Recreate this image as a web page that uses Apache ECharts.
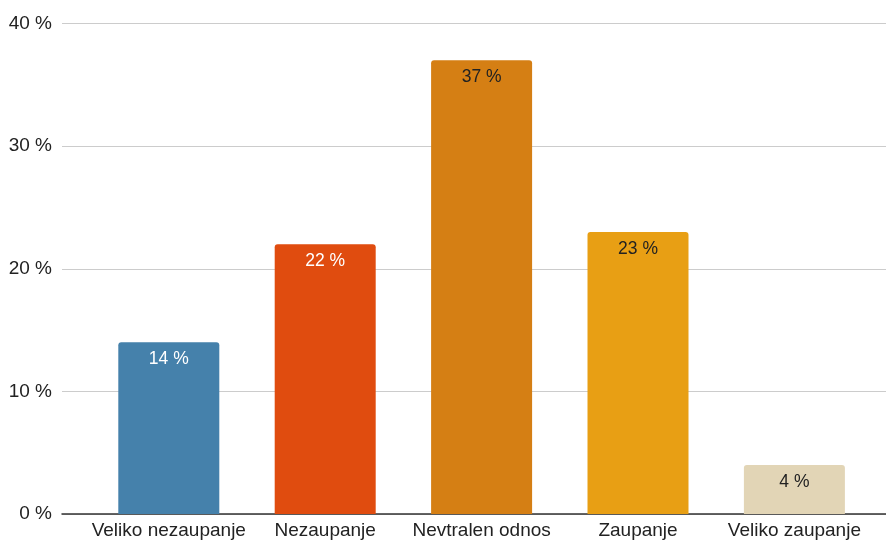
<!DOCTYPE html>
<html>
<head>
<meta charset="utf-8">
<script src="https://cdn.jsdelivr.net/npm/echarts@6/dist/echarts.min.js"></script>
<style>
  html, body { margin: 0; padding: 0; background: #fff; }
  #chart { width: 886px; height: 542px; }
</style>
</head>
<body>
<div id="chart"></div>
<script>
const categories = ['Veliko nezaupanje', 'Nezaupanje', 'Nevtralen odnos', 'Zaupanje', 'Veliko zaupanje']
const values = [14, 22, 37, 23, 4]
const barColors = ['#4581ab', '#e04c0f', '#d57f14', '#e89f14', '#e2d5b6']
const labelColors = ['#ffffff', '#ffffff', '#222222', '#222222', '#222222']
const yTicks = [0, 10, 20, 30, 40]

const font = 'Liberation Sans, Arial, sans-serif'
const chart = echarts.init(document.getElementById('chart'))

chart.setOption({
  backgroundColor: '#ffffff',
  animation: false,
  grid: [
    { left: 62, right: 0, top: 23.5, bottom: 28 },
    { left: 90.6, right: 13.4, top: 23.5, bottom: 28 },
  ],
  xAxis: [
    {
      gridIndex: 0,
      type: 'category',
      data: [''],
      axisLine: { show: true, lineStyle: { color: '#333333', width: 1.5 } },
      axisTick: { show: false },
      axisLabel: { show: false },
    },
    {
      gridIndex: 1,
      type: 'category',
      data: categories,
      axisLine: { show: false },
      axisTick: { show: false },
      axisLabel: { color: '#222222', fontSize: 19, fontFamily: font, margin: 7, interval: 0 },
    },
  ],
  yAxis: [
    {
      gridIndex: 0,
      type: 'value',
      min: yTicks[0],
      max: yTicks[yTicks.length - 1],
      interval: 10,
      axisLine: { show: false },
      axisTick: { show: false },
      splitLine: { lineStyle: { color: '#cccccc', width: 1 } },
      axisLabel: {
        color: '#222222',
        fontSize: 19,
        fontFamily: font,
        margin: 10,
        formatter: (v) => v + ' %',
      },
    },
    {
      gridIndex: 1,
      type: 'value',
      min: yTicks[0],
      max: yTicks[yTicks.length - 1],
      interval: 10,
      show: false,
      splitLine: { show: false },
    },
  ],
  series: [
    {
      type: 'bar',
      xAxisIndex: 1,
      yAxisIndex: 1,
      barWidth: 101,
      data: values.map((v, i) => ({
        value: v,
        itemStyle: { color: barColors[i], borderRadius: [3, 3, 0, 0] },
        label: { color: labelColors[i] },
      })),
      label: {
        show: true,
        position: 'insideTop',
        distance: 8,
        fontSize: 17.5,
        fontFamily: font,
        formatter: (p) => p.value + ' %',
      },
    },
  ],
})
</script>
</body>
</html>
